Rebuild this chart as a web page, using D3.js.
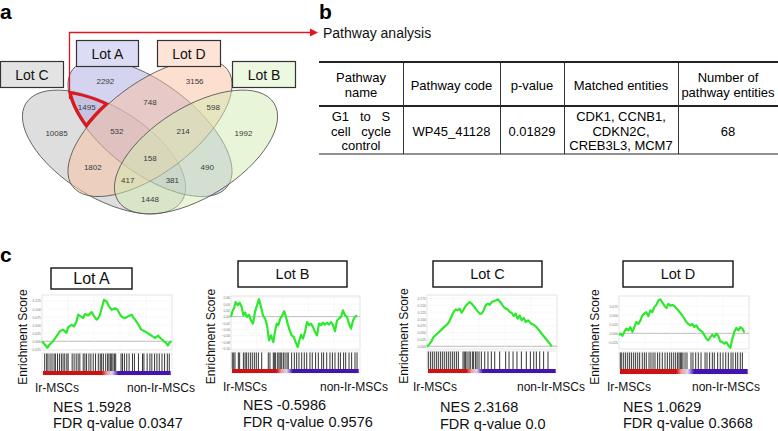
<!DOCTYPE html>
<html>
<head>
<meta charset="utf-8">
<script src="https://cdn.jsdelivr.net/npm/d3@7"></script>
<style>
  body { margin: 0; background: #fff; }
  svg { display: block; font-family: "Liberation Sans", Arial, sans-serif; }
</style>
</head>
<body>
<div id="fig"></div>
<script>
// ---------- panel a : venn of four lots ----------
const vennKeys = ["C", "A", "D", "B"];
const vennLabels = ["Lot C", "Lot A", "Lot D", "Lot B"];
const regionSets = ["C", "A", "D", "B", "CA", "AD", "DB", "CB", "CAD", "ADB", "CD", "AB", "CDB", "CAB", "CADB"];
const regionCounts = [10085, 2292, 3156, 1992, 1495, 748, 598, 1448, 532, 214, 1802, 490, 417, 381, 158];

// ---------- panel b : pathway table ----------
const pathwayTitle = "Pathway analysis";
const tableHeader = [["Pathway", "name"], ["Pathway code"], ["p-value"], ["Matched entities"], ["Number of", "pathway entities"]];
const tableRow = [["G1   to   S", "cell   cycle", "control"], ["WP45_41128"], ["0.01829"], ["CDK1, CCNB1,", "CDKN2C,", "CREB3L3, MCM7"], ["68"]];

// ---------- panel c : GSEA enrichment plots ----------
const lotNames = ["Lot A", "Lot B", "Lot C", "Lot D"];
const nesValues = ["1.5928", "-0.5986", "2.3168", "1.0629"];
const fdrValues = ["0.0347", "0.9576", "0.0", "0.3668"];
const groupLabels = ["Ir-MSCs", "non-Ir-MSCs"];

const esTicksA = [-0.025, 0, 0.025, 0.05, 0.075, 0.1, 0.125];
const esTicksB = [-0.10, -0.08, -0.06, -0.04, -0.02, 0, 0.02, 0.04, 0.06];
const esTicksC = [0, 0.025, 0.05, 0.075, 0.1, 0.125, 0.15, 0.175];
const esTicksD = [-0.025, 0, 0.025, 0.05, 0.075];

const rankA = [0,2.1,4.1,5.9,8.5,11.1,13.7,16.2,18.8,20.1,22.7,24.7,26.5,27.8,29.9,31.7,33.0,35.6,38.1,40.2,42.0,43.3,44.6,45.9,47.7,49.7,51.5,53.6,56.2,58.2,60.1,61.9,63.9,66.5,69.1,70.4,71.6,74.2,76.3,78.9,80.9,83.2,85.1,87.1,89.2,91.0,93.8,95.4,96.9,97.9,99.5];
const esA = [0.000,-0.010,-0.020,-0.010,0.000,0.015,0.031,0.036,0.026,0.043,0.051,0.046,0.061,0.082,0.077,0.072,0.084,0.080,0.090,0.077,0.067,0.072,0.082,0.102,0.128,0.123,0.108,0.097,0.102,0.097,0.082,0.074,0.072,0.077,0.082,0.072,0.067,0.051,0.036,0.031,0.026,0.020,0.015,0.010,0.018,0.010,0.000,-0.005,-0.013,-0.005,0.000];
const hitsA = [2.1,3.6,4.6,6.2,7.7,9.3,10.3,11.9,13.4,14.9,16.2,17.5,19.1,20.1,23.2,24.7,26.3,27.8,29.1,31.7,33.0,34.3,36.1,37.6,39.4,41.2,43.3,44.8,45.9,47.2,49.0,50.5,51.5,52.6,53.6,54.6,55.7,56.7,60.8,61.9,63.4,65.2,67.0,69.6,71.1,74.2,77.3,78.4,80.9,83.0,84.5,86.6,88.4,90.2,92.3,94.3,96.4,97.9];

const rankB = [0,1.0,2.6,3.6,5.2,6.7,8.3,9.6,10.9,12.4,14.0,15.5,17.1,18.6,20.2,21.7,23.3,24.8,26.4,27.9,29.5,31.0,32.8,34.1,35.4,36.7,38.2,39.8,41.3,42.6,43.9,45.5,47.0,48.6,50.1,51.7,52.7,54.3,55.8,57.4,58.9,60.5,62.0,63.6,65.1,66.7,68.2,69.8,71.3,72.9,74.4,76.0,77.5,79.1,80.6,82.2,83.7,85.3,86.8,88.4,89.9,91.5,93.0,94.6,96.1,97.7];
const esB = [-0.001,0.015,0.030,0.046,0.036,0.044,0.030,0.004,0.013,-0.001,0.006,-0.012,-0.022,0.015,0.036,0.055,0.030,0.004,-0.006,-0.027,-0.075,-0.059,-0.080,-0.048,-0.022,-0.027,-0.006,0.004,0.017,-0.001,-0.022,-0.043,-0.059,-0.064,-0.080,-0.096,-0.080,-0.057,-0.069,-0.048,-0.017,-0.027,-0.022,-0.033,-0.048,-0.059,-0.022,-0.027,-0.019,-0.025,-0.019,-0.025,-0.017,-0.027,-0.046,-0.012,-0.006,-0.001,0.020,0.004,-0.001,-0.022,-0.038,-0.012,-0.001,0.004];
const hitsB = [1.0,2.1,3.1,5.7,6.7,9.6,10.9,11.9,13.4,15.0,16.5,18.1,19.6,21.2,23.8,28.9,30.2,32.8,33.6,34.6,36.2,37.2,38.2,39.3,40.6,41.9,43.4,44.4,47.0,49.1,50.9,52.7,54.8,56.8,58.7,61.2,63.0,65.6,67.7,70.3,71.8,74.2,76.7,78.6,80.6,83.2,84.8,87.3,88.9,91.5,93.5,96.1,97.7];

const rankC = [0,1.5,3.3,5.1,7.2,9.2,11.3,13.3,15.4,16.9,18.7,20.5,22.1,23.6,25.1,26.7,28.2,29.7,31.3,32.8,34.4,35.9,37.4,39.0,40.5,42.1,43.6,45.1,46.7,48.2,49.7,51.3,52.8,54.4,55.9,57.4,59.0,60.5,62.1,63.6,65.1,66.7,68.2,69.7,71.3,72.8,74.4,75.9,77.9,80.0,82.1,84.1,86.2,88.2,90.3,92.3,94.4,95.9];
const esC = [-0.002,0.006,0.018,0.034,0.043,0.052,0.062,0.071,0.079,0.089,0.107,0.126,0.135,0.132,0.138,0.123,0.135,0.148,0.156,0.162,0.156,0.148,0.138,0.128,0.120,0.120,0.132,0.150,0.156,0.152,0.162,0.165,0.168,0.172,0.165,0.156,0.144,0.138,0.135,0.126,0.123,0.111,0.120,0.101,0.113,0.095,0.104,0.089,0.095,0.083,0.079,0.071,0.059,0.046,0.034,0.022,0.010,0.000];
const hitsC = [1.0,2.6,4.1,5.6,7.2,8.7,10.3,11.8,13.3,14.9,16.4,17.9,19.5,21.0,22.6,24.1,27.7,28.7,29.7,30.8,32.3,33.3,34.9,35.9,37.4,38.5,40.0,41.8,44.4,46.9,49.5,52.1,55.9,60.5,63.1,66.2,69.2,72.6,76.4,79.5,82.1,84.1,86.7,89.7,93.1];

const rankD = [0,1.3,2.6,4.1,5.6,7.2,8.7,10.3,11.8,13.3,14.9,16.4,17.9,19.5,21.0,22.6,24.1,25.6,27.2,28.7,30.3,31.8,33.3,34.9,36.4,37.9,39.5,41.0,42.6,44.1,45.6,47.2,48.7,50.3,51.8,53.3,54.9,56.4,57.9,59.5,61.0,62.6,64.1,65.6,67.2,68.7,70.3,71.8,73.3,74.9,76.4,77.9,79.5,81.0,82.6,84.1,85.6,87.2,88.7,90.3,91.8,93.3,94.9,96.4];
const esD = [-0.005,-0.001,-0.007,0.004,0.013,0.008,0.017,0.004,0.017,0.031,0.026,0.035,0.049,0.054,0.058,0.047,0.063,0.058,0.072,0.078,0.090,0.093,0.085,0.076,0.069,0.081,0.076,0.078,0.075,0.069,0.063,0.056,0.049,0.040,0.031,0.026,0.022,0.026,0.017,0.022,0.013,0.008,0.004,-0.005,-0.015,-0.019,-0.010,-0.004,-0.010,-0.001,-0.007,-0.022,-0.024,-0.028,-0.024,-0.033,-0.040,-0.015,0.004,0.015,0.008,0.017,0.013,0.002];
const hitsD = [1.0,2.1,3.6,5.1,6.7,8.2,9.7,11.3,12.8,14.4,15.9,17.9,19.5,21.0,23.1,24.6,26.2,27.7,29.7,31.3,33.3,35.4,37.2,39.0,40.5,42.1,43.6,45.1,46.2,47.2,48.2,49.2,50.8,52.3,55.4,56.9,59.0,61.0,63.1,66.2,67.7,69.7,71.8,73.3,75.9,77.9,80.0,82.1,84.1,86.2,87.7,89.7,91.3,93.3,94.9];

// rank-list position where the metric colour passes red -> pink -> white -> blue
const bandA = [46, 50, 54, 59];
const bandB = [35, 39, 43, 48];
const bandC = [30, 34, 38, 43];
const bandD = [44, 48, 53, 58];

// ===================================================================
const W = 778, H = 431;
const svg = d3.select("#fig").append("svg").attr("width", W).attr("height", H);
const defs = svg.append("defs");

const RED = "#e3141b";

// panel letters
[["a", 0, 19], ["b", 319, 19], ["c", 0, 262]].forEach(function (p) {
  svg.append("text").attr("x", p[1]).attr("y", p[2])
    .attr("font-size", 21).attr("font-weight", "bold").text(p[0]);
});

// ---------------- venn ----------------
const ellipses = {
  C: {cx: 104, cy: 152, rx: 92, ry: 45, rot: 32},
  A: {cx: 150, cy: 128, rx: 97, ry: 45, rot: 37},
  D: {cx: 150, cy: 128, rx: 97, ry: 45, rot: -37},
  B: {cx: 196, cy: 152, rx: 92, ry: 45, rot: -32}
};
const vennFill = {C: "#bdbdbd", A: "#a9a9e2", D: "#f9c0a0", B: "#d1ecb1"};
const boxFill = {C: "#e3e3e3", A: "#dcdcf4", D: "#fde4d6", B: "#ecf8df"};
const boxPos = {C: [0, 61, 63, 26], A: [76, 40, 62, 26], D: [157, 40, 63, 26], B: [232, 61, 63, 26]};

function inside(e, x, y) {
  const t = e.rot * Math.PI / 180;
  const dx = x - e.cx, dy = y - e.cy;
  const u = dx * Math.cos(t) + dy * Math.sin(t);
  const v = -dx * Math.sin(t) + dy * Math.cos(t);
  return (u / e.rx) * (u / e.rx) + (v / e.ry) * (v / e.ry) <= 1;
}
function ellipseAttrs(sel, e) {
  return sel.attr("cx", e.cx).attr("cy", e.cy).attr("rx", e.rx).attr("ry", e.ry)
    .attr("transform", "rotate(" + e.rot + "," + e.cx + "," + e.cy + ")");
}

const venn = svg.append("g");
vennKeys.forEach(function (k) {
  ellipseAttrs(venn.append("ellipse"), ellipses[k])
    .attr("fill", vennFill[k]).attr("fill-opacity", 0.5)
    .attr("stroke", "#555").attr("stroke-width", 0.8);
});

// region label positions: centroid of each region from the ellipse geometry
const acc = {};
for (let x = 0; x <= 300; x += 1) {
  for (let y = 40; y <= 235; y += 1) {
    const key = vennKeys.filter(k => inside(ellipses[k], x, y)).join("");
    if (!key) continue;
    if (!acc[key]) acc[key] = {sx: 0, sy: 0, n: 0};
    acc[key].sx += x; acc[key].sy += y; acc[key].n += 1;
  }
}
venn.selectAll("text.count")
  .data(regionSets.map((s, i) => ({set: s, n: regionCounts[i]})))
  .enter().append("text")
  .attr("class", "count")
  .attr("x", d => acc[d.set].sx / acc[d.set].n)
  .attr("y", d => acc[d.set].sy / acc[d.set].n + 3)
  .attr("text-anchor", "middle")
  .attr("font-size", 8).attr("fill", "#3a3a3a")
  .text(d => d.n);

// red outline of the highlighted region: Lot C and Lot A only (not D, not B)
["C", "A"].forEach(function (k) {
  ellipseAttrs(defs.append("clipPath").attr("id", "clip" + k).append("ellipse"), ellipses[k]);
});
const outMask = defs.append("mask").attr("id", "notDB");
outMask.append("rect").attr("x", 0).attr("y", 0).attr("width", W).attr("height", H).attr("fill", "#fff");
["D", "B"].forEach(function (k) {
  ellipseAttrs(outMask.append("ellipse"), ellipses[k]).attr("fill", "#000");
});
const hl = svg.append("g").attr("clip-path", "url(#clipC)")
  .append("g").attr("clip-path", "url(#clipA)")
  .append("g").attr("mask", "url(#notDB)");
["C", "A", "D"].forEach(function (k) {
  ellipseAttrs(hl.append("ellipse"), ellipses[k])
    .attr("fill", "none").attr("stroke", RED).attr("stroke-width", 6);
});

// arrow to pathway analysis
svg.append("path").attr("d", "M69.5,99 V32.5 H311")
  .attr("fill", "none").attr("stroke", RED).attr("stroke-width", 1.3);
svg.append("path").attr("d", "M310,28.5 L318,32.5 L310,36.5 Z").attr("fill", RED);

// set name boxes
vennKeys.forEach(function (k, i) {
  const b = boxPos[k];
  svg.append("rect").attr("x", b[0] + 0.5).attr("y", b[1] + 0.5).attr("width", b[2]).attr("height", b[3])
    .attr("fill", boxFill[k]).attr("stroke", "#333").attr("stroke-width", 1.2);
  svg.append("text").attr("x", b[0] + b[2] / 2 + 0.5).attr("y", b[1] + b[3] / 2 + 5.5)
    .attr("text-anchor", "middle").attr("font-size", 14).attr("fill", "#111")
    .text(vennLabels[i]);
});

// ---------------- table ----------------
svg.append("text").attr("x", 323).attr("y", 38).attr("font-size", 14).attr("fill", "#111").text(pathwayTitle);

const colEdges = [319, 403, 500, 564, 678, 778];
const tbl = svg.append("g").attr("font-size", 13).attr("fill", "#000");
tbl.append("line").attr("x1", 319).attr("x2", 778).attr("y1", 62).attr("y2", 62).attr("stroke", "#222").attr("stroke-width", 2);
tbl.append("line").attr("x1", 319).attr("x2", 778).attr("y1", 106).attr("y2", 106).attr("stroke", "#222").attr("stroke-width", 2);
tbl.append("line").attr("x1", 319).attr("x2", 778).attr("y1", 154).attr("y2", 154).attr("stroke", "#222").attr("stroke-width", 1);
colEdges.slice(1, 5).forEach(function (x) {
  tbl.append("line").attr("x1", x + 0.5).attr("x2", x + 0.5).attr("y1", 63).attr("y2", 154)
    .attr("stroke", "#333").attr("stroke-width", 1);
});
function cellText(lines, ci, midY, lh) {
  const cx = (colEdges[ci] + colEdges[ci + 1]) / 2;
  const y0 = midY - (lines.length - 1) * lh / 2 + 4.5;
  lines.forEach(function (s, j) {
    tbl.append("text").attr("x", cx).attr("y", y0 + j * lh)
      .attr("text-anchor", "middle").style("white-space", "pre").text(s);
  });
}
tableHeader.forEach((lines, ci) => cellText(lines, ci, 85, 15.5));
tableRow.forEach((lines, ci) => cellText(lines, ci, 131, 14.5));

// ---------------- GSEA panels ----------------
const gsea = [
  {rank: rankA, es: esA, hits: hitsA, ticks: esTicksA, fmt: ".3f", band: bandA},
  {rank: rankB, es: esB, hits: hitsB, ticks: esTicksB, fmt: ".2f", band: bandB},
  {rank: rankC, es: esC, hits: hitsC, ticks: esTicksC, fmt: ".3f", band: bandC},
  {rank: rankD, es: esD, hits: hitsD, ticks: esTicksD, fmt: ".3f", band: bandD}
];
const layout = [
  {x0: 42, x1: 172, y0: 295, y1: 350, bc0: 353, bc1: 371, bd1: 375, dom: [-0.027, 0.143],
   box: [51, 268, 81, 21], tsize: 16, esX: 22, lrX: 35, lrY: 392, nonX: 195, nesX: 53, nesY: 411.5, fdrY: 428},
  {x0: 231, x1: 360, y0: 296, y1: 350, bc0: 352, bc1: 369, bd1: 373, dom: [-0.105, 0.065],
   box: [238, 261, 109, 26], tsize: 14.5, esX: 210, lrX: 223, lrY: 390.5, nonX: 388, nesX: 243, nesY: 410, fdrY: 427},
  {x0: 427, x1: 557, y0: 295, y1: 349, bc0: 351, bc1: 369, bd1: 373, dom: [-0.010, 0.188],
   box: [433, 261, 109, 26], tsize: 14.5, esX: 403, lrX: 413, lrY: 391, nonX: 585, nesX: 440, nesY: 411.5, fdrY: 429},
  {x0: 619, x1: 749, y0: 296, y1: 349, bc0: 352, bc1: 369, bd1: 374, dom: [-0.043, 0.1025],
   box: [623, 261, 110, 26], tsize: 14.5, esX: 594, lrX: 607, lrY: 391, nonX: 760, nesX: 623, nesY: 411.5, fdrY: 428}
];

gsea.forEach(function (p, i) {
  const L = layout[i];
  const g = svg.append("g");
  const x = d3.scaleLinear().domain([0, 100]).range([L.x0, L.x1]);
  const y = d3.scaleLinear().domain(L.dom).range([L.y1, L.y0]);

  // title box
  g.append("rect").attr("x", L.box[0]).attr("y", L.box[1]).attr("width", L.box[2]).attr("height", L.box[3])
    .attr("fill", "#fff").attr("stroke", "#111").attr("stroke-width", 1.4);
  g.append("text").attr("x", L.box[0] + L.box[2] / 2).attr("y", L.box[1] + L.box[3] / 2 + L.tsize * 0.36)
    .attr("text-anchor", "middle").attr("font-size", L.tsize).attr("fill", "#111").text(lotNames[i]);

  // plot frame and grid
  g.append("rect").attr("x", L.x0).attr("y", L.y0).attr("width", L.x1 - L.x0).attr("height", L.y1 - L.y0)
    .attr("fill", "#fff").attr("stroke", "#ddd").attr("stroke-width", 0.8);
  g.selectAll(".hgrid").data(p.ticks).enter().append("line")
    .attr("x1", L.x0).attr("x2", L.x1).attr("y1", d => y(d)).attr("y2", d => y(d))
    .attr("stroke", d => d === 0 ? "#aaa" : "#f0f0f0").attr("stroke-width", d => d === 0 ? 0.8 : 0.5);
  g.selectAll(".vgrid").data(x.ticks(5).slice(1, -1)).enter().append("line")
    .attr("x1", d => x(d)).attr("x2", d => x(d)).attr("y1", L.y0).attr("y2", L.y1)
    .attr("stroke", "#f0f0f0").attr("stroke-width", 0.5);

  const ax = g.append("g").attr("transform", "translate(" + L.x0 + ",0)")
    .call(d3.axisLeft(y).tickValues(p.ticks).tickSize(0).tickPadding(1).tickFormat(d3.format(p.fmt)));
  ax.select(".domain").remove();
  ax.selectAll("text").attr("font-size", 3.4).attr("fill", "#777").attr("font-family", "Liberation Sans, Arial, sans-serif");

  // running enrichment score
  const pts = p.rank.map((r, j) => [r, p.es[j]]);
  g.append("path").datum(pts)
    .attr("d", d3.line().x(d => x(d[0])).y(d => y(d[1])))
    .attr("fill", "none").attr("stroke", "#2ee82e").attr("stroke-width", 2.2).attr("stroke-linejoin", "round");

  // barcode of hits
  g.append("rect").attr("x", L.x0).attr("y", L.bc0).attr("width", L.x1 - L.x0).attr("height", L.bd1 - L.bc0)
    .attr("fill", "#fff").attr("stroke", "#ddd").attr("stroke-width", 0.6);
  g.selectAll(".hit").data(p.hits).enter().append("line")
    .attr("x1", d => x(d)).attr("x2", d => x(d)).attr("y1", L.bc0 + 0.5).attr("y2", L.bc1)
    .attr("stroke", "#111").attr("stroke-width", 1).attr("stroke-opacity", 0.85);

  // ranked-list metric band
  const gid = "band" + i;
  const grad = defs.append("linearGradient").attr("id", gid).attr("x1", "0%").attr("x2", "100%");
  [[0, "#cc1212"], [p.band[0], "#cc1212"], [p.band[1], "#f29a9a"], [p.band[2], "#dcd6ee"], [p.band[3], "#4314b0"], [100, "#4314b0"]]
    .forEach(s => grad.append("stop").attr("offset", s[0] + "%").attr("stop-color", s[1]));
  g.append("rect").attr("x", x(0) + 1).attr("y", L.bc1).attr("width", x(99) - x(0) - 1).attr("height", L.bd1 - L.bc1)
    .attr("fill", "url(#" + gid + ")");

  // labels
  const midY = (L.y0 + L.bd1) / 2 + 2;
  g.append("text").attr("transform", "translate(" + (L.esX + 4.5) + "," + midY + ") rotate(-90)")
    .attr("text-anchor", "middle").attr("font-size", 12).attr("fill", "#111").text("Enrichment Score");
  g.append("text").attr("x", L.lrX).attr("y", L.lrY).attr("font-size", 12).attr("fill", "#111").text(groupLabels[0]);
  g.append("text").attr("x", L.nonX).attr("y", L.lrY).attr("text-anchor", "end").attr("font-size", 12).attr("fill", "#111").text(groupLabels[1]);
  g.append("text").attr("x", L.nesX).attr("y", L.nesY).attr("font-size", 14.5).attr("fill", "#111").text("NES " + nesValues[i]);
  g.append("text").attr("x", L.nesX).attr("y", L.fdrY).attr("font-size", 14.5).attr("fill", "#111").text("FDR q-value " + fdrValues[i]);
});
</script>
</body>
</html>
